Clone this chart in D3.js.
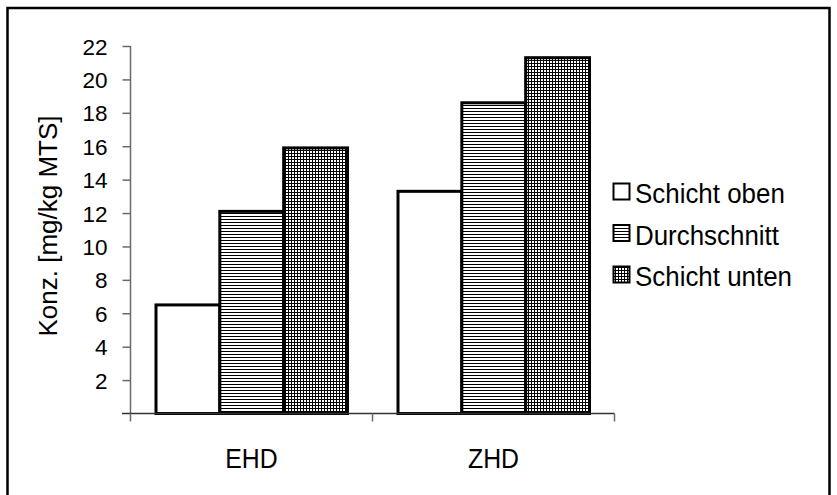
<!DOCTYPE html>
<html><head><meta charset="utf-8">
<script src="https://cdn.jsdelivr.net/npm/d3@7"></script>
<style>body{margin:0;background:#fff}svg{display:block}text{font-family:"Liberation Sans",Arial,sans-serif;fill:#000}</style>
</head><body><svg id="c" width="837" height="495"></svg>
<script>
const categories = ["EHD", "ZHD"];
const seriesNames = ["Schicht oben", "Durchschnitt", "Schicht unten"];
const schichtOben = [6.5, 13.3];
const durchschnitt = [12.1, 18.6];
const schichtUnten = [15.9, 21.3];
const yTicks = [2, 4, 6, 8, 10, 12, 14, 16, 18, 20, 22];
const yLabel = "Konz. [mg/kg MTS]";

const seriesValues = [schichtOben, durchschnitt, schichtUnten];
const fills = ["#fff", "url(#hstripe)", "url(#grid)"];

const svg = d3.select("#c");
const defs = svg.append("defs");
const hp = defs.append("pattern").attr("id","hstripe").attr("patternUnits","userSpaceOnUse").attr("width",3).attr("height",3);
hp.append("rect").attr("width",3).attr("height",3).attr("fill","#fff");
hp.append("rect").attr("y",0).attr("width",3).attr("height",1).attr("fill","#000");
const gp = defs.append("pattern").attr("id","grid").attr("patternUnits","userSpaceOnUse").attr("width",3).attr("height",3);
gp.append("rect").attr("width",3).attr("height",3).attr("fill","#fff");
gp.append("rect").attr("width",3).attr("height",1).attr("fill","#000");
gp.append("rect").attr("width",1).attr("height",3).attr("fill","#000");

// frame
svg.append("rect").attr("x",7.5).attr("y",8).attr("width",822).attr("height",500)
  .attr("fill","none").attr("stroke","#000").attr("stroke-width",2.5);

const y = d3.scaleLinear().domain([0, 22]).range([413.5, 46]);
const x0 = d3.scaleBand().domain(categories).range([130.5, 614.5]).paddingInner(0).paddingOuter(0);
const x1 = d3.scaleBand().domain(seriesNames).range([25.5, x0.bandwidth()-25]).padding(0);

// bars
const g = svg.append("g");
categories.forEach((c, ci) => {
  seriesNames.forEach((s, si) => {
    const v = seriesValues[si][ci];
    g.append("rect")
      .attr("x", x0(c) + x1(s))
      .attr("y", y(v))
      .attr("width", x1.bandwidth())
      .attr("height", y(0) - y(v))
      .attr("fill", fills[si])
      .attr("stroke", "#000").attr("stroke-width", 3);
  });
});

// y axis
const yAxis = d3.axisLeft(y).tickValues(yTicks).tickSize(8).tickPadding(15).tickFormat(d3.format("d"));
const ya = svg.append("g").attr("transform","translate(130.5,0)").call(yAxis);
ya.select(".domain").attr("d", `M0,${y(22)}V${y(0)}`).attr("stroke","#6a6a6a").attr("stroke-width",1.5);
ya.selectAll(".tick line").attr("stroke","#6a6a6a").attr("stroke-width",1.5);
ya.selectAll(".tick text").style("font-size","22.5px").attr("dy","0.36em");

// x axis
const xa = svg.append("g").attr("transform",`translate(0,${y(0)})`);
xa.append("line").attr("x1",122).attr("x2",614.5).attr("y1",0).attr("y2",0).attr("stroke","#333").attr("stroke-width",1.5);
const bounds = [x0.range()[0], ...categories.map(c => x0(c)+x0.bandwidth())];
xa.selectAll("line.t").data(bounds).join("line").attr("class","t")
  .attr("x1",d=>d).attr("x2",d=>d).attr("y1",0).attr("y2",8).attr("stroke","#6a6a6a").attr("stroke-width",1.5);
xa.selectAll("text").data(categories).join("text")
  .attr("transform", d => `translate(${x0(d) + x0.bandwidth()/2},54) scale(0.92,1)`)
  .attr("text-anchor","middle").style("font-size","27px").text(d=>d);

// y label
svg.append("text").attr("transform","translate(57,226) rotate(-90)")
  .attr("text-anchor","middle").style("font-size","26px").text(yLabel);

// legend
const lg = svg.append("g");
seriesNames.forEach((s, i) => {
  const by = 203 + i*41.5;
  lg.append("rect").attr("x",613.5).attr("y",by-19.5).attr("width",16).attr("height",16)
    .attr("fill",fills[i]).attr("stroke","#000").attr("stroke-width",2);
  lg.append("text").attr("transform",`translate(635,${by}) scale(0.96,1)`).style("font-size","27px").text(s);
});
</script></body></html>
